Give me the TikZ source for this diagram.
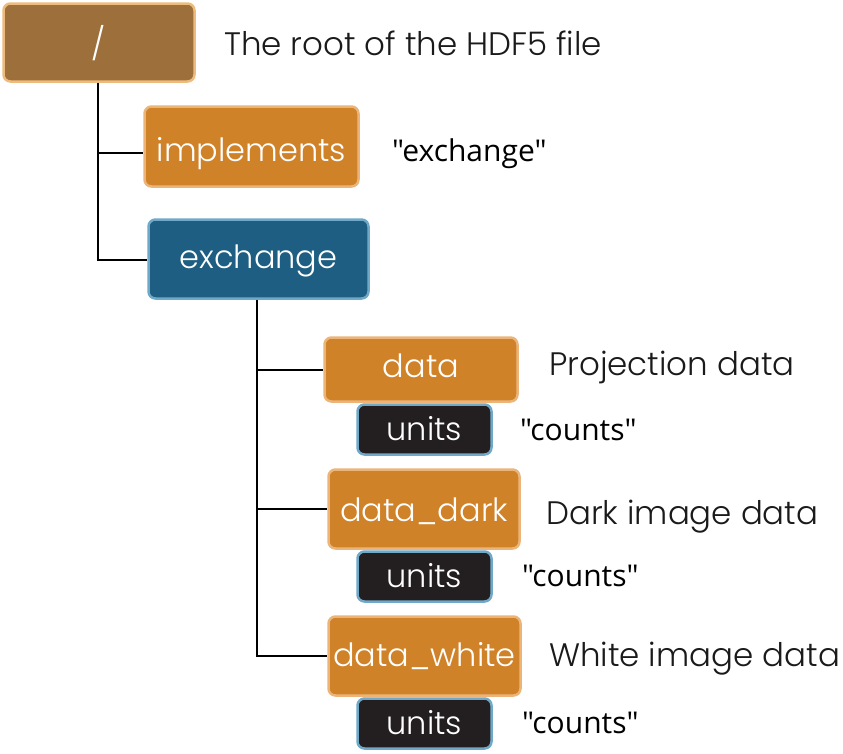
\documentclass[tikz,border=0pt]{standalone}
\usepackage{fontspec}
\setmainfont{Poppins Light}
\newfontfamily\qfont{Open Sans}
\definecolor{brownfill}{HTML}{9C6F3B}
\definecolor{brownedge}{HTML}{EDBB7C}
\definecolor{orfill}{HTML}{D08228}
\definecolor{oredge}{HTML}{EBB57A}
\definecolor{bluefill}{HTML}{1D5E82}
\definecolor{blueedge}{HTML}{70A8C8}
\definecolor{blackfill}{HTML}{231F20}
\definecolor{txt}{HTML}{1A1A1A}
\tikzset{
  box/.style={rectangle, rounded corners=7pt, line width=2.5pt, inner sep=0pt, text depth=0pt, text=white, font=\fontsize{32}{34}\selectfont},
  rootbox/.style={box, fill=brownfill, draw=brownedge},
  grp/.style={box, fill=orfill, draw=oredge},
  bgrp/.style={box, fill=bluefill, draw=blueedge},
  attr/.style={box, fill=blackfill, draw=blueedge, minimum width=134pt, minimum height=50pt, text height=22pt},
  desc/.style={anchor=base west, inner sep=0pt, text=txt, font=\fontsize{32.5}{34}\selectfont},
  val/.style={anchor=base west, inner sep=0pt, text=black, font=\qfont\fontsize{30}{32}\selectfont},
  conn/.style={line width=2pt, black}
}
\begin{document}
\begin{tikzpicture}[x=1pt,y=-1pt]
\useasboundingbox (0,0) rectangle (843,753);
% nodes
\node[rootbox, minimum width=191pt, minimum height=78pt, text height=25pt] (root) at (99,42.5) {/};
\node[grp, minimum width=214pt, minimum height=80pt, text height=30pt] (impl) at (251.5,146.5) {implements};
\node[bgrp, minimum width=220pt, minimum height=79pt, text height=18pt] (exch) at (258.5,259) {exchange};
\node[grp, minimum width=193pt, minimum height=64pt, text height=15pt] (data) at (421,369.5) {data};
\node[attr] (u1) at (424.5,429.5) {units};
\node[grp, minimum width=191pt, minimum height=79pt, text height=25pt] (dark) at (424,509) {data\_dark};
\node[attr] (u2) at (424.5,576.5) {units};
\node[grp, minimum width=192pt, minimum height=79pt, text height=21pt] (white) at (424.5,656) {data\_white};
\node[attr] (u3) at (424.5,723.5) {units};
% labels
\node[desc] (lroot) at (224,55) {The root of the HDF5 file};
\node[val] (limpl) at (392,161.7) {"exchange"};
\node[desc] (ldata) at (549,375) {Projection data};
\node[val] (lu1) at (520,440) {"counts"};
\node[desc] (ldark) at (546,524) {Dark image data};
\node[val] (lu2) at (522,586) {"counts"};
\node[desc] (lwhite) at (549,666.7) {White image data};
\node[val] (lu3) at (522,733) {"counts"};
% connectors
\coordinate (t1) at (98,153);
\coordinate (t2) at (98,260);
\coordinate (t3) at (257,370);
\coordinate (t4) at (257,509);
\coordinate (t5) at (257,656);
\draw[conn] (root.south -| t1) -- (t2) -- (exch.west |- t2);
\draw[conn] (t1) -- (impl.west |- t1);
\draw[conn] (exch.south -| t3) -- (t5) -- (white.west |- t5);
\draw[conn] (t3) -- (data.west |- t3);
\draw[conn] (t4) -- (dark.west |- t4);
\end{tikzpicture}
\end{document}
